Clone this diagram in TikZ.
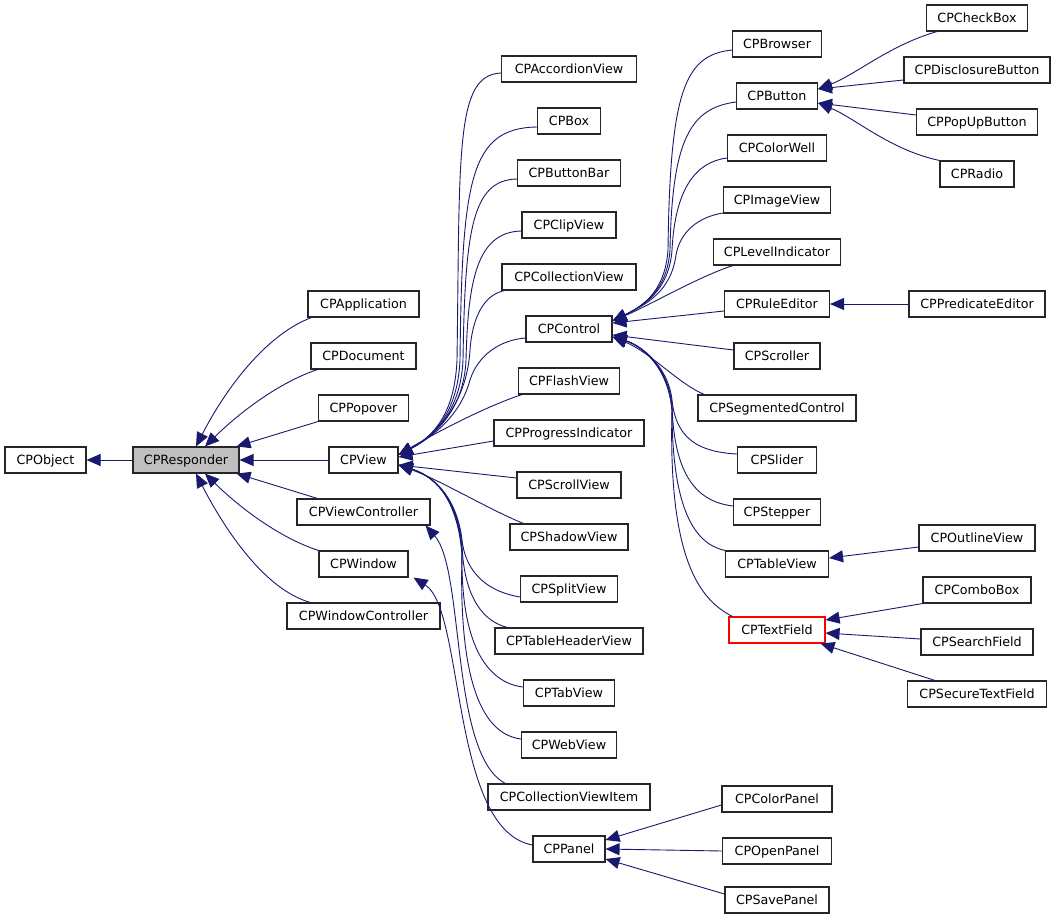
\documentclass[tikz,border=0pt]{standalone}
\usepackage{fontspec}
\setmainfont{DejaVu Sans}
\usetikzlibrary{arrows.meta}
\definecolor{edgeblue}{RGB}{25,25,112}
\definecolor{rootgray}{RGB}{191,191,191}
\begin{document}
\begin{tikzpicture}[scale=1.000000,x=1pt,y=-1pt,
  cls/.style={draw=black!85,line width=1.1pt,fill=white,inner sep=0pt,
    minimum height=26pt,text height=9.3pt,text depth=0pt,
    font=\fontsize{12.7}{15}\selectfont},
  edge/.style={draw=edgeblue,line width=0.9pt,{Triangle[length=14pt,width=12pt]}-}]
\useasboundingbox (0,0) rectangle (1056,921);
\fill[white] (0,0) rectangle (1056,921);
% Drawing classes
% Column 1: root classes
\node[cls,minimum width=81pt] (CPObject) at (45.5,460) {CPObject};
\node[cls,minimum width=106pt,fill=rootgray] (CPResponder) at (186,460) {CPResponder};
% Column 2: subclasses of CPResponder
\node[cls,minimum width=111pt] (CPApplication) at (363.5,304) {CPApplication};
\node[cls,minimum width=105pt] (CPDocument) at (363.5,356) {CPDocument};
\node[cls,minimum width=90pt] (CPPopover) at (363.5,408) {CPPopover};
\node[cls,minimum width=69pt] (CPView) at (363.5,460) {CPView};
\node[cls,minimum width=133pt] (CPViewController) at (363.5,512) {CPViewController};
\node[cls,minimum width=89pt] (CPWindow) at (363.5,564) {CPWindow};
\node[cls,minimum width=153pt] (CPWindowController) at (363.5,616) {CPWindowController};
% Column 3: subclasses of CPView, CPViewController, CPWindow
\node[cls,minimum width=135pt] (CPAccordionView) at (569,69) {CPAccordionView};
\node[cls,minimum width=63pt] (CPBox) at (569,121) {CPBox};
\node[cls,minimum width=103pt] (CPButtonBar) at (569,173) {CPButtonBar};
\node[cls,minimum width=94pt] (CPClipView) at (569,225) {CPClipView};
\node[cls,minimum width=134pt] (CPCollectionView) at (569,277) {CPCollectionView};
\node[cls,minimum width=86pt] (CPControl) at (569,329) {CPControl};
\node[cls,minimum width=101pt] (CPFlashView) at (569,381) {CPFlashView};
\node[cls,minimum width=150pt] (CPProgressIndicator) at (569,433) {CPProgressIndicator};
\node[cls,minimum width=104pt] (CPScrollView) at (569,485) {CPScrollView};
\node[cls,minimum width=118pt] (CPShadowView) at (569,537) {CPShadowView};
\node[cls,minimum width=97pt] (CPSplitView) at (569,589) {CPSplitView};
\node[cls,minimum width=148pt] (CPTableHeaderView) at (569,641) {CPTableHeaderView};
\node[cls,minimum width=91pt] (CPTabView) at (569,693) {CPTabView};
\node[cls,minimum width=95pt] (CPWebView) at (569,745) {CPWebView};
\node[cls,minimum width=162pt] (CPCollectionViewItem) at (569,797) {CPCollectionViewItem};
\node[cls,minimum width=72pt] (CPPanel) at (569,849) {CPPanel};
% Column 4: subclasses of CPControl, CPPanel
\node[cls,minimum width=89pt] (CPBrowser) at (777,44) {CPBrowser};
\node[cls,minimum width=81pt] (CPButton) at (777,96) {CPButton};
\node[cls,minimum width=99pt] (CPColorWell) at (777,148) {CPColorWell};
\node[cls,minimum width=107pt] (CPImageView) at (777,200) {CPImageView};
\node[cls,minimum width=127pt] (CPLevelIndicator) at (777,252) {CPLevelIndicator};
\node[cls,minimum width=105pt] (CPRuleEditor) at (777,304) {CPRuleEditor};
\node[cls,minimum width=86pt] (CPScroller) at (777,356) {CPScroller};
\node[cls,minimum width=158pt] (CPSegmentedControl) at (777,408) {CPSegmentedControl};
\node[cls,minimum width=79pt] (CPSlider) at (777,460) {CPSlider};
\node[cls,minimum width=87pt] (CPStepper) at (777,512) {CPStepper};
\node[cls,minimum width=103pt] (CPTableView) at (777,564) {CPTableView};
\node[cls,minimum width=96pt,draw=red] (CPTextField) at (777,630) {CPTextField};
\node[cls,minimum width=110pt] (CPColorPanel) at (777,799) {CPColorPanel};
\node[cls,minimum width=109pt] (CPOpenPanel) at (777,851) {CPOpenPanel};
\node[cls,minimum width=104pt] (CPSavePanel) at (777,900) {CPSavePanel};
% Column 5: leaf classes
\node[cls,minimum width=101pt] (CPCheckBox) at (977,18) {CPCheckBox};
\node[cls,minimum width=146pt] (CPDisclosureButton) at (977,70) {CPDisclosureButton};
\node[cls,minimum width=121pt] (CPPopUpButton) at (977,122) {CPPopUpButton};
\node[cls,minimum width=74pt] (CPRadio) at (977,174) {CPRadio};
\node[cls,minimum width=136pt] (CPPredicateEditor) at (977,304) {CPPredicateEditor};
\node[cls,minimum width=116pt] (CPOutlineView) at (977,538) {CPOutlineView};
\node[cls,minimum width=108pt] (CPComboBox) at (977,590) {CPComboBox};
\node[cls,minimum width=112pt] (CPSearchField) at (977,642) {CPSearchField};
\node[cls,minimum width=139pt] (CPSecureTextField) at (977,694) {CPSecureTextField};
% Done with classes; drawing inheritance edges
% CPResponder -> CPObject
\draw[edge] (CPObject.east) -- (CPResponder.west);
% CPResponder subclasses
\draw[edge] ([xshift=10pt]CPResponder.north) .. controls (225,390) and (265,335) .. ([xshift=4pt]CPApplication.south west);
\draw[edge] ([xshift=19pt]CPResponder.north) .. controls (240,412) and (280,382) .. ([xshift=7pt]CPDocument.south west);
\draw[edge] ([xshift=-3pt]CPResponder.north east) -- (CPPopover.south west);
\draw[edge] (CPResponder.east) -- (CPView.west);
\draw[edge] ([xshift=-3pt]CPResponder.south east) -- ([xshift=21pt]CPViewController.north west);
\draw[edge] ([xshift=19pt]CPResponder.south) .. controls (240,508) and (280,538) .. (CPWindow.north west);
\draw[edge] ([xshift=10pt]CPResponder.south) .. controls (225,530) and (265,590) .. ([xshift=24pt]CPWindowController.north west);
% CPView subclasses, upper bundle
\draw[edge] ([yshift=5pt]CPView.east) .. controls (440,433) and (455,405) .. (457,360) .. controls (460,150) and (455,75) .. ([yshift=-4pt]CPAccordionView.west);
\draw[edge] ([yshift=5pt]CPView.east) .. controls (440,433) and (458,405) .. (460,360) .. controls (462,180) and (470,128) .. ([yshift=-6pt]CPBox.west);
\draw[edge] ([yshift=5pt]CPView.east) .. controls (440,433) and (461,405) .. (463,360) .. controls (465,230) and (472,180) .. ([yshift=-6pt]CPButtonBar.west);
\draw[edge] ([yshift=5pt]CPView.east) .. controls (440,433) and (464,405) .. (466,360) .. controls (468,280) and (477,232) .. ([yshift=-6pt]CPClipView.west);
\draw[edge] ([yshift=5pt]CPView.east) .. controls (440,433) and (467,400) .. (470,350) .. controls (473,310) and (488,294) .. ([xshift=3pt]CPCollectionView.south west);
\draw[edge] ([yshift=5pt]CPView.east) .. controls (440,433) and (462,410) .. (470,380) .. controls (478,355) and (500,340) .. ([yshift=-9pt]CPControl.west);
\draw[edge] ([yshift=5pt]CPView.east) .. controls (440,430) and (490,405) .. ([xshift=4pt]CPFlashView.south west);
\draw[edge] ([yshift=3pt]CPView.east) -- ([yshift=-8pt]CPProgressIndicator.west);
% CPView subclasses, lower bundle
\draw[edge] ([yshift=-5pt]CPView.east) -- ([yshift=7pt]CPScrollView.west);
\draw[edge] ([yshift=-5pt]CPView.east) .. controls (440,480) and (490,510) .. ([xshift=14pt]CPShadowView.north west);
\draw[edge] ([yshift=-5pt]CPView.east) .. controls (440,478) and (458,505) .. (462,540) .. controls (466,575) and (490,592) .. ([yshift=-8pt]CPSplitView.west);
\draw[edge] ([yshift=-5pt]CPView.east) .. controls (440,478) and (458,505) .. (462,545) .. controls (464,600) and (485,622) .. ([xshift=13pt]CPTableHeaderView.north west);
\draw[edge] ([yshift=-5pt]CPView.east) .. controls (440,478) and (458,505) .. (462,550) .. controls (460,650) and (490,683) .. ([yshift=6pt]CPTabView.west);
\draw[edge] ([yshift=-5pt]CPView.east) .. controls (440,478) and (458,505) .. (462,555) .. controls (458,700) and (490,735) .. ([yshift=6pt]CPWebView.west);
% CPViewController, CPWindow subclasses
\draw[edge] ([xshift=-5pt]CPViewController.south east) .. controls (465,570) and (450,755) .. ([xshift=18pt]CPCollectionViewItem.north west);
\draw[edge] ([xshift=5pt]CPWindow.south east) .. controls (465,610) and (450,830) .. ([yshift=4pt]CPPanel.west);
% CPControl subclasses, upper bundle
\draw[edge] ([yshift=8pt]CPControl.east) .. controls (645,305) and (665,290) .. (668,250) .. controls (670,90) and (685,55) .. ([yshift=-6pt]CPBrowser.west);
\draw[edge] ([yshift=8pt]CPControl.east) .. controls (645,305) and (667,290) .. (670,250) .. controls (672,140) and (690,108) .. ([yshift=-6pt]CPButton.west);
\draw[edge] ([yshift=8pt]CPControl.east) .. controls (645,305) and (669,290) .. (672,250) .. controls (675,190) and (695,162) .. ([yshift=-10pt]CPColorWell.west);
\draw[edge] ([yshift=8pt]CPControl.east) .. controls (645,305) and (671,292) .. (676,255) .. controls (680,232) and (698,217) .. ([yshift=-13pt]CPImageView.west);
\draw[edge] ([yshift=8pt]CPControl.east) .. controls (650,305) and (700,276) .. ([xshift=20pt]CPLevelIndicator.south west);
\draw[edge] ([yshift=6pt]CPControl.east) -- ([yshift=-7pt]CPRuleEditor.west);
% CPControl subclasses, lower bundle
\draw[edge] ([yshift=-6pt]CPControl.east) -- ([yshift=6pt]CPScroller.west);
\draw[edge] ([yshift=-8pt]CPControl.east) .. controls (650,352) and (680,385) .. ([xshift=7pt]CPSegmentedControl.north west);
\draw[edge] ([yshift=-8pt]CPControl.east) .. controls (640,345) and (668,365) .. (672,400) .. controls (676,440) and (700,452) .. ([yshift=6pt]CPSlider.west);
\draw[edge] ([yshift=-8pt]CPControl.east) .. controls (640,345) and (668,365) .. (672,405) .. controls (674,480) and (700,502) .. ([yshift=6pt]CPStepper.west);
\draw[edge] ([yshift=-8pt]CPControl.east) .. controls (640,345) and (668,365) .. (672,410) .. controls (672,520) and (700,545) .. (CPTableView.north west);
\draw[edge] ([yshift=-8pt]CPControl.east) .. controls (640,345) and (668,365) .. (672,410) .. controls (668,560) and (700,600) .. ([xshift=4pt]CPTextField.north west);
% CPButton subclasses
\draw[edge] ([yshift=7pt]CPButton.east) .. controls (855,75) and (890,45) .. ([xshift=11pt]CPCheckBox.south west);
\draw[edge] ([yshift=7pt]CPButton.east) -- ([yshift=-10pt]CPDisclosureButton.west);
\draw[edge] ([yshift=-7pt]CPButton.east) -- ([yshift=7pt]CPPopUpButton.west);
\draw[edge] ([yshift=-7pt]CPButton.east) .. controls (855,118) and (890,150) .. (CPRadio.north west);
% remaining leaves
\draw[edge] (CPRuleEditor.east) -- (CPPredicateEditor.west);
\draw[edge] ([yshift=6pt]CPTableView.east) -- ([yshift=-9pt]CPOutlineView.west);
\draw[edge] ([yshift=10pt]CPTextField.east) -- (CPComboBox.south west);
\draw[edge] ([yshift=-3pt]CPTextField.east) -- ([yshift=3pt]CPSearchField.west);
\draw[edge] ([xshift=-5pt]CPTextField.south east) -- ([xshift=28pt]CPSecureTextField.north west);
\draw[edge] ([yshift=9pt]CPPanel.east) -- ([yshift=-6pt]CPColorPanel.west);
\draw[edge] (CPPanel.east) -- (CPOpenPanel.west);
\draw[edge] ([yshift=-10pt]CPPanel.east) -- ([yshift=6pt]CPSavePanel.west);
% Done with edges
\end{tikzpicture}
\end{document}
